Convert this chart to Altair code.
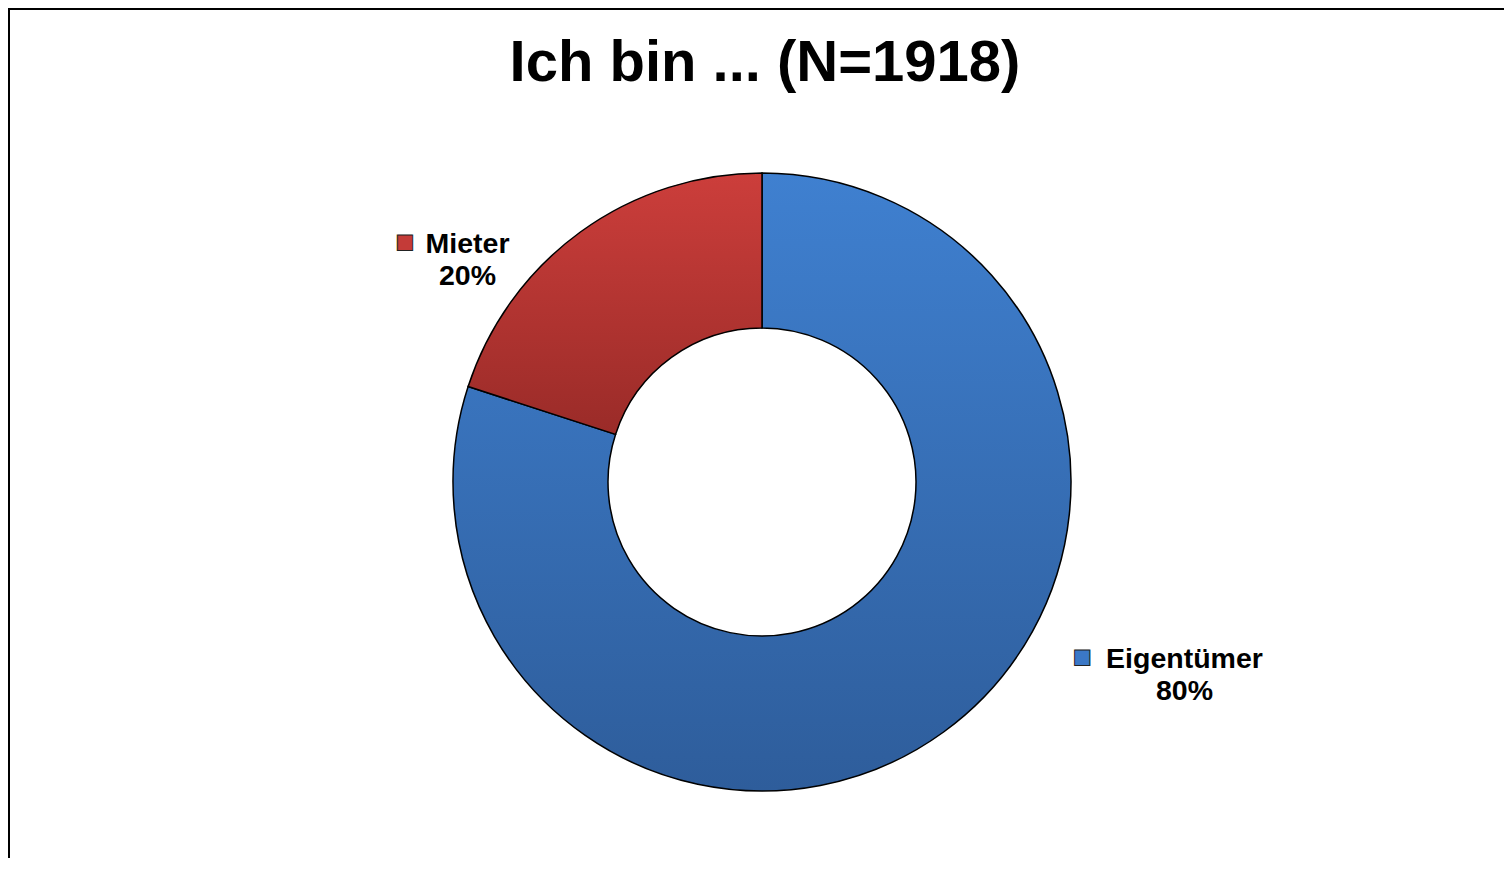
import altair as alt
import pandas as pd

# ---- data ----
categories = ["Eigentümer", "Mieter"]
shares = [80, 20]
pct_labels = ["80%", "20%"]
stack_order = [0, 1]
title_text = "Ich bin ... (N=1918)"

df = pd.DataFrame({
    "category": categories,
    "share": shares,
    "pct": pct_labels,
    "order": stack_order,
})
df["label"] = df["category"] + "\n" + df["pct"]

# ---- layout / style ----
W, H = 1496, 850
CX, CY = W / 2 + 6, H / 2 + 49
R_IN, R_OUT = 154, 309
FONT = "Liberation Sans"

blue_grad = {"gradient": "linear", "x1": 0, "y1": 0, "x2": 0, "y2": 1,
             "stops": [{"offset": 0, "color": "#3f80d0"}, {"offset": 1, "color": "#2e5d9b"}]}
red_grad = {"gradient": "linear", "x1": 0, "y1": 0, "x2": 0, "y2": 1,
            "stops": [{"offset": 0, "color": "#cc3e3b"}, {"offset": 1, "color": "#9a2b28"}]}
square_colors = {"Eigentümer": "#3b78c6", "Mieter": "#c43b38"}

theta_scale = alt.Scale(domain=[0, 100], range=[0, 6.283185307179586])

arcs = alt.Chart(df).mark_arc(
    innerRadius=R_IN, outerRadius=R_OUT, stroke="black", strokeWidth=1.5
).encode(
    theta=alt.Theta("share:Q", stack=True, scale=theta_scale),
    order=alt.Order("order:Q"),
    fill=alt.condition(alt.datum.category == "Mieter", alt.value(red_grad), alt.value(blue_grad)),
    x=alt.value(CX),
    y=alt.value(CY),
)


def polar_layer(cat, dx, dy, radius, text_enc, **mark_kw):
    return alt.Chart(df).transform_stack(
        stack="share", as_=["s0", "s1"], groupby=[], sort=[alt.SortField("order")]
    ).transform_calculate(
        mid="(datum.s0 + datum.s1) / 2"
    ).transform_filter(
        alt.datum.category == cat
    ).mark_text(radius=radius, dx=dx, dy=dy, **mark_kw).encode(
        theta=alt.Theta("mid:Q", stack=None, scale=theta_scale),
        text=text_enc,
        x=alt.value(CX),
        y=alt.value(CY),
    )


label_kw = dict(font=FONT, fontSize=28.5, fontWeight="bold", color="black",
                align="center", baseline="alphabetic", lineBreak="\n", lineHeight=32)
sq_kw = dict(font="DejaVu Sans", fontSize=20, align="center", baseline="middle",
             stroke="#222222", strokeWidth=1)

lab_m = polar_layer("Mieter", -82.9, 62.5, 360, alt.Text("label:N"), **label_kw)
lab_e = polar_layer("Eigentümer", 210.9, -104.9, 360, alt.Text("label:N"), **label_kw)
sq_m = polar_layer("Mieter", -145.4, 50.9, 360, alt.value("■"), fill=square_colors["Mieter"], **sq_kw)
sq_e = polar_layer("Eigentümer", 108.7, -116.5, 360, alt.value("■"), fill=square_colors["Eigentümer"], **sq_kw)

frame_df = pd.DataFrame({"k": [0]})
frame_left = alt.Chart(frame_df).mark_rule(color="black", strokeWidth=2).encode(
    x=alt.value(1), y=alt.value(0), y2=alt.value(H))
frame_top = alt.Chart(frame_df).mark_rule(color="black", strokeWidth=2).encode(
    y=alt.value(1), x=alt.value(0), x2=alt.value(W))

chart = alt.layer(frame_left, frame_top, arcs, lab_m, lab_e, sq_m, sq_e).resolve_scale(
    theta="independent"
).properties(
    width=W, height=H,
    autosize=alt.AutoSizeParams(type="none"),
    padding=0,
    title=alt.Title(title_text, fontSize=58, font=FONT, fontWeight="bold", color="black",
                    anchor="middle", baseline="alphabetic", offset=-72, dx=9, dy=60),
).configure_view(strokeWidth=0)

chart.save("out.html", embed_options={"renderer": "svg", "actions": False})
